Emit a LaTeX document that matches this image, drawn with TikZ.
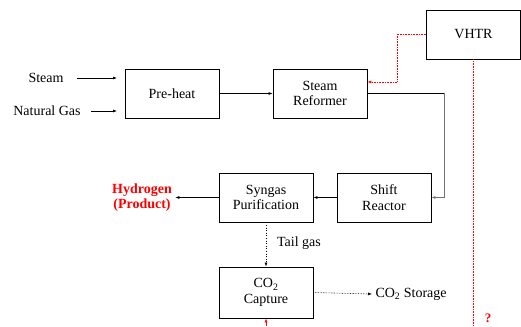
\documentclass[tikz,border=0pt]{standalone}
\usepackage{fontspec}
\setmainfont{Liberation Serif}
\usepackage{tikz}
\usetikzlibrary{arrows.meta}

\tikzset{
  unitbox/.style={draw, line width=0.9pt, minimum width=94pt, minimum height=49pt,
    align=center, inner sep=2pt},
  flow/.style={line width=0.6pt, -{Latex[length=4pt,width=3pt]}},
  heat/.style={red, densely dotted, line width=0.6pt}
}

\begin{document}
\begin{tikzpicture}[x=1pt, y=1pt, font=\fontsize{14}{15.5}\selectfont]
    \useasboundingbox (0,0) rectangle (521,326);
    % process units
    \node[unitbox] (preheat) at (172,232.5) {Pre-heat};
    \node[unitbox] (reformer) at (320,232.5) {Steam\\Reformer};
    \node[unitbox] (vhtr) at (473.5,291.5) {VHTR};
    \node[unitbox] (shift) at (384,128.5) {Shift\\Reactor};
    \node[unitbox] (purif) at (266,128.5) {Syngas\\Purification};
    \node[unitbox, minimum height=51pt] (capture) at (266,33.5) {CO\textsubscript{2}\\Capture};
    % feeds and products
    \node (steam) at (46,248) {Steam};
    \node (natgas) at (47,215) {Natural Gas};
    \node[red, font=\fontsize{14}{15.5}\selectfont\bfseries, align=center] (hydrogen) at (142,128.5) {Hydrogen\\(Product)};
    \node (tailgas) at (299,83) {Tail gas};
    \node[anchor=west] (storage) at (372,32) {CO\textsubscript{2} Storage};
    \node[red, font=\fontsize{13}{14}\selectfont\bfseries] (question) at (488,8) {?};
    \coordinate (steamin) at (117,248);
    \coordinate (gasin) at (117,215);
    \coordinate (bend) at (444,232.5);
    \coordinate (split) at (397,291.5);
    \coordinate (vhtrfoot) at (473.5,0);
    \coordinate (capfoot) at (266,0);
    % connectors
    \draw[flow] (steam.east) ++(10,0) -- (steamin);
    \draw[flow] (natgas.east) ++(7,0) -- (gasin);
    \draw[flow] (preheat.east) -- (reformer.west);
    \draw[line width=0.6pt] (reformer.east) -- (bend);
    \draw[flow, black!55] (bend) |- (shift.east);
    \draw[flow] (shift.west) -- (purif.east);
    \draw[flow] (purif.west) -- (hydrogen.east);
    \draw[flow, dotted] (purif.south) -- (capture.north);
    \draw[flow, densely dotted] (capture.east) -- (storage.west);
    % heat from the reactor
    \draw[heat, -{Latex[length=4pt,width=3pt]}] (vhtr.west) -- (split) |- ([yshift=11.5pt]reformer.east);
    \draw[heat] (vhtr.south) -- (vhtrfoot);
    \draw[red, line width=0.6pt, -{Latex[length=4pt,width=3pt]}] (capfoot) -- (capture.south);
  \end{tikzpicture}
\end{document}
